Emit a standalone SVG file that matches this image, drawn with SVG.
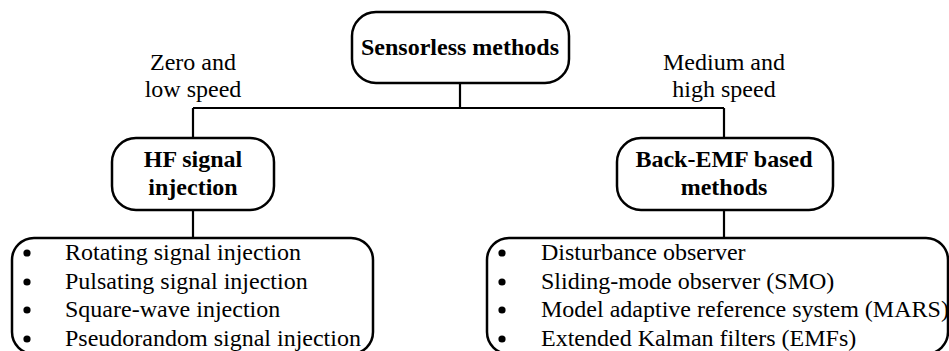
<svg xmlns="http://www.w3.org/2000/svg" width="949" height="351" viewBox="0 0 949 351">
  <style>
    .box { fill: #ffffff; stroke: #000000; stroke-width: 2.5; }
    .wire { fill: none; stroke: #000000; stroke-width: 2.2; }
    .bullet { fill: #000000; }
    text { font-family: "Liberation Serif", "Times New Roman", serif; font-size: 24px; fill: #000000; }
    .title { font-weight: bold; text-anchor: middle; }
    .label { text-anchor: middle; }
  </style>
  <defs>
    <circle id="dot" r="3.6"/>
  </defs>
  <rect width="949" height="351" fill="#ffffff"/>

  <!-- tree connectors: root stem, crossbar, branch drops, list drops -->
  <g id="connectors">
    <path class="wire" d="M460 83 V108 M193 108 H724 M193 108 V138 M724 108 V138 M193 210 V238 M724 210 V238"/>
  </g>

  <g id="root">
    <rect class="box" x="352" y="12" width="217" height="71" rx="24"/>
    <text class="title" x="460" y="55">Sensorless methods</text>
  </g>

  <g id="label-low">
    <text class="label" x="193" y="70">Zero and</text>
    <text class="label" x="193" y="97">low speed</text>
  </g>

  <g id="label-high">
    <text class="label" x="724" y="70">Medium and</text>
    <text class="label" x="724" y="97">high speed</text>
  </g>

  <g id="hf-injection">
    <rect class="box" x="112" y="138" width="162" height="72" rx="24"/>
    <text class="title" x="193" y="167">HF signal</text>
    <text class="title" x="193" y="195">injection</text>
  </g>

  <g id="back-emf">
    <rect class="box" x="617" y="138" width="216" height="72" rx="24"/>
    <text class="title" x="724" y="167">Back-EMF based</text>
    <text class="title" x="724" y="195">methods</text>
  </g>

  <g id="hf-list">
    <rect class="box" x="12" y="238" width="361" height="116" rx="22"/>
    <use href="#dot" class="bullet" x="27" y="253"/><text x="65" y="260">Rotating signal injection</text>
    <use href="#dot" class="bullet" x="27" y="282"/><text x="65" y="289">Pulsating signal injection</text>
    <use href="#dot" class="bullet" x="27" y="310"/><text x="65" y="317">Square-wave injection</text>
    <use href="#dot" class="bullet" x="27" y="339"/><text x="65" y="346">Pseudorandom signal injection</text>
  </g>

  <g id="emf-list">
    <rect class="box" x="487" y="238" width="461" height="116" rx="22"/>
    <use href="#dot" class="bullet" x="502" y="253"/><text x="541" y="260">Disturbance observer</text>
    <use href="#dot" class="bullet" x="502" y="282"/><text x="541" y="289">Sliding-mode observer (SMO)</text>
    <use href="#dot" class="bullet" x="502" y="310"/><text x="541" y="317">Model adaptive reference system (MARS)</text>
    <use href="#dot" class="bullet" x="502" y="339"/><text x="541" y="346">Extended Kalman filters (EMFs)</text>
  </g>
</svg>
